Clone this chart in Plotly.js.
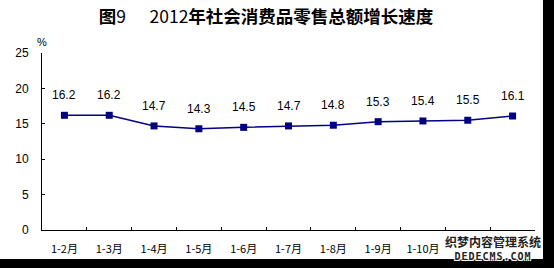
<!DOCTYPE html>
<html>
<head>
<meta charset="utf-8">
<script src="https://cdn.plot.ly/plotly-3.0.1.min.js"></script>
<style>
  html, body { margin: 0; padding: 0; background: #000; }
  #wrap { position: relative; width: 554px; height: 268px; overflow: hidden; background: #000; }
  #chart { position: absolute; left: 0; top: 0; width: 543px; height: 259px; background: #fff; }
  .wm { position: absolute; left: 440px; width: 106px; text-align: center; font-weight: bold; color: #222;
        text-shadow: 1px 1px 0 #fff, -1px -1px 0 #fff, 1px -1px 0 #fff, -1px 1px 0 #fff; }
  #wm1 { top: 236px; font-family: "Noto Sans CJK SC", sans-serif; font-size: 12px; line-height: 12px; letter-spacing: 0px; }
  #wm2 { top: 252px; font-family: "DejaVu Sans Mono", monospace; font-size: 10px; line-height: 10px; letter-spacing: 1px; }
</style>
</head>
<body>
<div id="wrap">
  <div id="chart"></div>
  <div class="wm" id="wm1">织梦内容管理系统</div>
  <div class="wm" id="wm2">DEDECMS.COM</div>
</div>
<script>
const categories = ["1-2月","1-3月","1-4月","1-5月","1-6月","1-7月","1-8月","1-9月","1-10月","1-11月","1-12月"];
const growth = [16.2,16.2,14.7,14.3,14.5,14.7,14.8,15.3,15.4,15.5,16.1];
// the 11th category label is hidden under the watermark in the reference
const visibleTickText = ["1-2月","1-3月","1-4月","1-5月","1-6月","1-7月","1-8月","1-9月","1-10月",""," "];
const labels = growth.map(v => v.toFixed(1));
const yTicks = [0,5,10,15,20,25];
const cats = categories.slice(0, growth.length);

const trace = {
  x: cats,
  y: growth,
  type: "scatter",
  mode: "lines+markers",
  line: { color: "#000080", width: 1.5 },
  marker: { symbol: "square", size: 7, color: "#000080" },
  hoverinfo: "none"
};
// invisible copy on a second x axis that only draws the inside boundary ticks
const tickTrace = {
  x: cats, y: growth, xaxis: "x2", type: "scatter", mode: "lines",
  line: { color: "rgba(0,0,0,0)", width: 0 }, hoverinfo: "none"
};

const annotations = growth.map((v, i) => ({
  x: cats[i], y: v, xref: "x", yref: "y",
  text: labels[i], showarrow: false, yshift: 20,
  font: { family: "Liberation Sans, Arial, sans-serif", size: 12, color: "#000" }
}));
annotations.push({
  xref: "paper", yref: "paper", x: 0, y: 1, xanchor: "center", yanchor: "bottom",
  yshift: 3, text: "%", showarrow: false,
  font: { family: "Liberation Sans, Arial, sans-serif", size: 11, color: "#000" }
});

const layout = {
  width: 543, height: 259,
  margin: { l: 42, r: 8, t: 53, b: 29 },
  paper_bgcolor: "#fff", plot_bgcolor: "#fff",
  showlegend: false,
  title: {
    text: "<b>图</b>9      2012<b>年社会消费品零售总额增长速度</b>",
    x: 0.49, xanchor: "center", xref: "container",
    y: 1 - 17/259, yanchor: "middle", yref: "container",
    font: { family: "Noto Sans CJK SC, sans-serif", size: 17.5, color: "#000" }
  },
  xaxis: {
    type: "category",
    categoryarray: cats, categoryorder: "array",
    tickvals: cats,
    ticktext: visibleTickText.slice(0, growth.length),
    range: [-0.5, growth.length - 0.5],
    showline: true, linecolor: "#000", linewidth: 1,
    ticks: "outside", ticklen: 9, tickcolor: "rgba(0,0,0,0)",
    showgrid: false, zeroline: false,
    tickfont: { family: "Noto Sans CJK SC, sans-serif", size: 11, color: "#000" },
    fixedrange: true
  },
  xaxis2: {
    type: "category", overlaying: "x",
    categoryarray: cats, categoryorder: "array",
    range: [-0.5, growth.length - 0.5],
    side: "bottom", anchor: "y",
    showline: false,
    ticks: "inside", tickson: "boundaries", ticklen: 3, tickcolor: "#000",
    showticklabels: false, showgrid: false, zeroline: false,
    fixedrange: true
  },
  yaxis: {
    range: [0, 25], tickvals: yTicks, ticktext: yTicks.map(String),
    showline: true, linecolor: "#000", linewidth: 1,
    ticks: "inside", ticklen: 3, tickcolor: "#000",
    showgrid: false, zeroline: false,
    tickfont: { family: "Liberation Sans, Arial, sans-serif", size: 12, color: "#000" },
    ticklabelstandoff: 10,
    fixedrange: true
  },
  annotations: annotations
};

Plotly.newPlot("chart", [tickTrace, trace], layout, { displayModeBar: false, staticPlot: true });
</script>
</body>
</html>
